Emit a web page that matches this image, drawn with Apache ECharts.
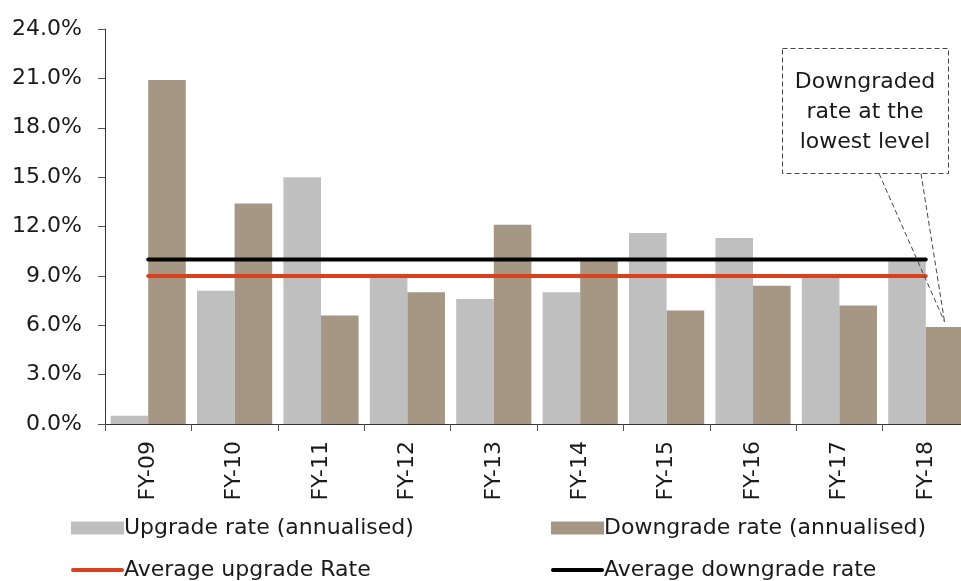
<!DOCTYPE html>
<html>
<head>
<meta charset="utf-8">
<script src="https://cdn.jsdelivr.net/npm/echarts@6/dist/echarts.min.js"></script>
<style>
  html, body { margin: 0; padding: 0; background: #fff; }
  #chart { width: 961px; height: 581px; }
</style>
</head>
<body>
<div id="chart"></div>
<script>
// Fiscal years on the category axis
const years = ['FY-09', 'FY-10', 'FY-11', 'FY-12', 'FY-13', 'FY-14', 'FY-15', 'FY-16', 'FY-17', 'FY-18'];

// Annualised rating upgrade / downgrade rates (%)
const upgradeRate = [0.5, 8.1, 15.0, 9.0, 7.6, 8.0, 11.6, 11.3, 8.9, 9.9];
const downgradeRate = [20.9, 13.4, 6.6, 8.0, 12.1, 9.9, 6.9, 8.4, 7.2, 5.9];

// Period averages, drawn as flat lines across the years
const avgUpgradeRate = [9.0, 9.0, 9.0, 9.0, 9.0, 9.0, 9.0, 9.0, 9.0, 9.0];
const avgDowngradeRate = [10.0, 10.0, 10.0, 10.0, 10.0, 10.0, 10.0, 10.0, 10.0, 10.0];

// Value-axis range
const yMin = 0, yMax = 24, yStep = 3;

const calloutLines = ['Downgraded', 'rate at the', 'lowest level'];

const FONT = '"DejaVu Sans", sans-serif';
const TEXT = '#1a1a1a';
const GREY = '#BFBFBF';
const BROWN = '#A59783';
const RED = '#D9411E';
const BLACK = '#000000';

const lineIcon = 'path://M2,0 L52,0 A2,2 0 0 1 52,4 L2,4 A2,2 0 0 1 2,0 Z';

const chart = echarts.init(document.getElementById('chart'), null, { renderer: 'canvas' });

// One legend block per entry so the 2 x 2 arrangement is fixed
function legendItem(name, icon, left, top) {
  return {
    left: left, top: top,
    itemWidth: 53,
    itemHeight: 13,
    symbolKeepAspect: true,
    selectedMode: false,
    textStyle: { fontFamily: FONT, fontSize: 22, lineHeight: 22, color: TEXT, padding: [0, 0, 0, -5] },
    data: [{ name: name, icon: icon }]
  };
}

chart.setOption({
  animation: false,
  textStyle: { fontFamily: FONT },
  grid: { left: 105, top: 29, width: 864, height: 395, outerBoundsMode: 'none', containLabel: false },
  legend: [
    legendItem('Upgrade rate (annualised)', 'rect', 66, 512),
    legendItem('Downgrade rate (annualised)', 'rect', 546, 512),
    legendItem('Average upgrade Rate', lineIcon, 66, 554),
    legendItem('Average downgrade rate', lineIcon, 546, 554)
  ],
  xAxis: {
    type: 'category',
    data: years,
    boundaryGap: true,
    axisLine: { lineStyle: { color: '#333', width: 1 } },
    axisTick: { show: true, length: 7, lineStyle: { color: '#555' } },
    axisLabel: { rotate: 90, margin: 17, fontSize: 22, color: TEXT, fontFamily: FONT, interval: 0 }
  },
  yAxis: {
    type: 'value',
    min: yMin, max: yMax, interval: yStep,
    splitLine: { show: false },
    axisLine: { show: true, lineStyle: { color: '#333', width: 1 } },
    axisTick: { show: true, length: 7, lineStyle: { color: '#555' } },
    axisLabel: {
      margin: 23, fontSize: 22, color: TEXT, fontFamily: FONT,
      formatter: v => v.toFixed(1) + '%'
    }
  },
  series: [
    {
      name: 'Upgrade rate (annualised)',
      type: 'bar',
      data: upgradeRate,
      barGap: '0%',
      barCategoryGap: '13%',
      itemStyle: { color: GREY }
    },
    {
      name: 'Downgrade rate (annualised)',
      type: 'bar',
      data: downgradeRate,
      itemStyle: { color: BROWN }
    },
    {
      name: 'Average upgrade Rate',
      type: 'line',
      data: avgUpgradeRate,
      symbol: 'none',
      itemStyle: { color: RED },
      lineStyle: { color: RED, width: 4, cap: 'round' },
      z: 3
    },
    {
      name: 'Average downgrade rate',
      type: 'line',
      data: avgDowngradeRate,
      symbol: 'none',
      itemStyle: { color: BLACK },
      lineStyle: { color: BLACK, width: 4, cap: 'round' },
      z: 4
    }
  ]
});

// Callout pointing at the lowest downgrade bar (last year)
(function drawCallout() {
  const last = years.length - 1;
  const c1 = chart.convertToPixel({ gridIndex: 0 }, [last - 1, 0]);
  const c2 = chart.convertToPixel({ gridIndex: 0 }, [last, downgradeRate[last]]);
  const band = c2[0] - c1[0];
  const barW = band * (1 - 0.13) / 2;
  const tipX = c2[0] + barW / 2;
  const tipY = c2[1] - 5;

  const box = { x: 782, y: 48, w: 166, h: 125 };
  const dash = { stroke: '#444', lineWidth: 1, lineDash: [5, 3], fill: null };
  const cx = box.x + box.w / 2;

  const elements = [
    { type: 'rect', shape: { x: box.x + 0.5, y: box.y + 0.5, width: box.w, height: box.h }, style: Object.assign({}, dash), z: 10 },
    { type: 'line', shape: { x1: 879, y1: box.y + box.h + 0.5, x2: tipX, y2: tipY }, style: Object.assign({}, dash), z: 10 },
    { type: 'line', shape: { x1: 921, y1: box.y + box.h + 0.5, x2: tipX, y2: tipY }, style: Object.assign({}, dash), z: 10 }
  ];
  calloutLines.forEach((t, i) => {
    elements.push({
      type: 'text', z: 11,
      x: cx, y: 82 + i * 30,
      style: { text: t, fontFamily: FONT, fontSize: 22, fill: TEXT, align: 'center', verticalAlign: 'middle' }
    });
  });
  chart.setOption({ graphic: elements });
})();
</script>
</body>
</html>
